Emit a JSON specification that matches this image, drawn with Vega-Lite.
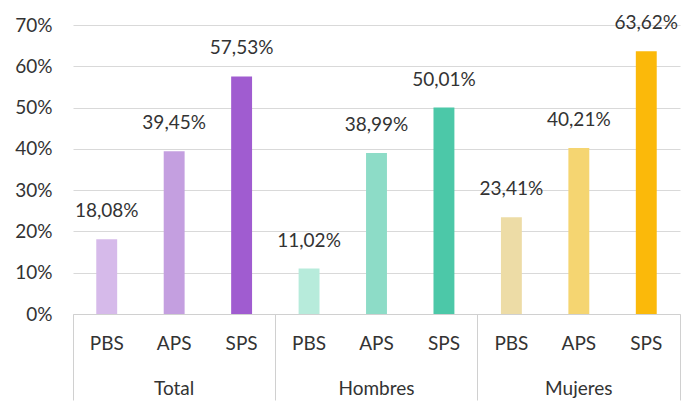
{
  "$schema": "https://vega.github.io/schema/vega-lite/v6.json",
  "width": 607,
  "height": 289,
  "autosize": {"type": "none"},
  "padding": {"left": 73, "top": 25, "right": 3, "bottom": 89},
  "config": {
    "locale": {"number": {"decimal": ",", "thousands": ".", "grouping": [3], "currency": ["", " €"]}},
    "view": {"stroke": null},
    "font": "Lato",
    "axis": {"labelFont": "Lato", "labelColor": "#333333", "labelFontSize": 19, "title": null}
  },
  "data": {
    "values": [
      {"grupo": "Total", "tipo": "PBS", "clave": "Total PBS", "valor": 0.1808},
      {"grupo": "Total", "tipo": "APS", "clave": "Total APS", "valor": 0.3945},
      {"grupo": "Total", "tipo": "SPS", "clave": "Total SPS", "valor": 0.5753},
      {"grupo": "Hombres", "tipo": "PBS", "clave": "Hombres PBS", "valor": 0.1102},
      {"grupo": "Hombres", "tipo": "APS", "clave": "Hombres APS", "valor": 0.3899},
      {"grupo": "Hombres", "tipo": "SPS", "clave": "Hombres SPS", "valor": 0.5001},
      {"grupo": "Mujeres", "tipo": "PBS", "clave": "Mujeres PBS", "valor": 0.2341},
      {"grupo": "Mujeres", "tipo": "APS", "clave": "Mujeres APS", "valor": 0.4021},
      {"grupo": "Mujeres", "tipo": "SPS", "clave": "Mujeres SPS", "valor": 0.6362}
    ]
  },
  "resolve": {"axis": {"x": "independent"}},
  "layer": [
    {
      "mark": {"type": "bar", "width": {"band": 0.31}},
      "encoding": {
        "x": {
          "field": "clave", "type": "nominal", "sort": null,
          "scale": {"paddingInner": 0, "paddingOuter": 0},
          "axis": {"orient": "bottom", "labelExpr": "split(datum.label, ' ')[1]", "ticks": false, "labelPadding": 20, "domainColor": "#d0d0d0", "labelAngle": 0, "grid": false}
        },
        "y": {
          "field": "valor", "type": "quantitative",
          "scale": {"domain": [0, 0.7]},
          "axis": {"format": ".0%", "values": [0, 0.1, 0.2, 0.3, 0.4, 0.5, 0.6, 0.7], "ticks": false, "labelPadding": 21, "domain": false, "gridColor": "#d9d9d9"}
        },
        "color": {
          "field": "clave", "type": "nominal",
          "scale": {
            "domain": ["Total PBS", "Total APS", "Total SPS", "Hombres PBS", "Hombres APS", "Hombres SPS", "Mujeres PBS", "Mujeres APS", "Mujeres SPS"],
            "range": ["#d6baea", "#c49fe0", "#a05cd0", "#b7ebdb", "#8ddcc7", "#4cc8a8", "#eddca6", "#f5d571", "#fbb90a"]
          },
          "legend": null
        }
      }
    },
    {
      "mark": {"type": "text", "dy": -28, "baseline": "middle", "fontSize": 19, "color": "#333333", "font": "Lato"},
      "encoding": {
        "x": {"field": "clave", "type": "nominal", "sort": null, "axis": null},
        "y": {"field": "valor", "type": "quantitative"},
        "text": {"field": "valor", "type": "quantitative", "format": ".2%"}
      }
    },
    {
      "mark": {"type": "bar", "opacity": 0},
      "encoding": {
        "x": {
          "field": "clave", "type": "nominal", "sort": null,
          "axis": {"orient": "bottom", "values": ["Total APS", "Hombres APS", "Mujeres APS"], "labelExpr": "split(datum.label, ' ')[0]", "ticks": false, "domain": false, "labelPadding": 65, "labelAngle": 0, "grid": false}
        },
        "y": {"field": "valor", "type": "quantitative"}
      }
    },
    {
      "mark": {"type": "bar", "opacity": 0},
      "encoding": {
        "x": {
          "field": "clave", "type": "nominal", "sort": null,
          "axis": {"orient": "bottom", "values": ["Total PBS", "Hombres PBS", "Mujeres PBS"], "bandPosition": 0, "tickSize": 86, "tickColor": "#d0d0d0", "labels": false, "domain": false, "grid": false}
        },
        "y": {"field": "valor", "type": "quantitative"}
      }
    },
    {
      "mark": {"type": "bar", "opacity": 0},
      "encoding": {
        "x": {
          "field": "clave", "type": "nominal", "sort": null,
          "axis": {"orient": "bottom", "values": ["Mujeres SPS"], "bandPosition": 1, "tickSize": 86, "tickColor": "#d0d0d0", "labels": false, "domain": false, "grid": false}
        },
        "y": {"field": "valor", "type": "quantitative"}
      }
    }
  ]
}
